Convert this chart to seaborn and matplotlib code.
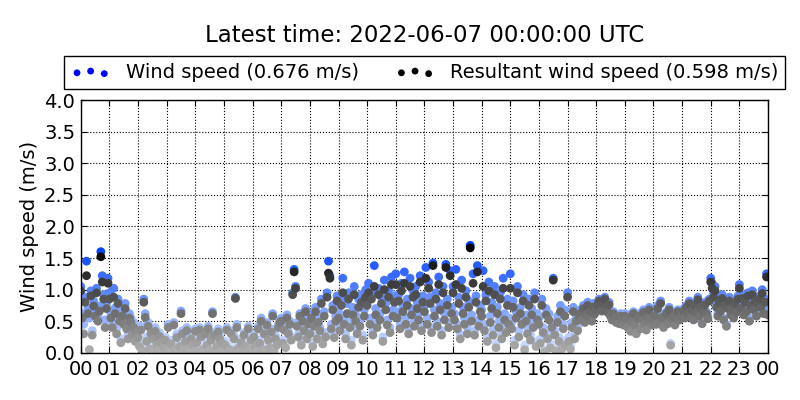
"""
Daily wind speed scatter, classic-looking style.
"""

import matplotlib
matplotlib.use("Agg")
import matplotlib.pyplot as plt
from matplotlib.colors import LinearSegmentedColormap
import numpy as np
import pandas as pd
import seaborn as sns

# Chart text
TITLE = "Latest time: 2022-06-07 00:00:00 UTC"
WIND_LABEL = "Wind speed (0.676 m/s)"
RESULTANT_LABEL = "Resultant wind speed (0.598 m/s)"
Y_LABEL = "Wind speed (m/s)"
HOUR_LABELS = [f"{h:02d}" for h in range(24)] + ["00"]

# Wind speed (m/s), 3-minute samples, one row per hour + last value at 24:00
wind_speed = [
    1.05, 0.62, 0.45, 0.88, 1.45, 0.71, 0.55, 0.98, 0.35, 0.82, 0.66, 1.02, 0.58, 0.74, 1.60, 1.22, 0.92, 0.52, 0.78, 1.18,
    0.95, 0.62, 0.48, 1.02, 0.71, 0.38, 0.85, 0.58, 0.22, 0.66, 0.52, 0.78, 0.44, 0.30, 0.62, 0.55, 0.36, 0.48, 0.25, 0.40,
    0.30, 0.15, 0.42, 0.08, 0.85, 0.62, 0.25, 0.48, 0.12, 0.35, 0.05, 0.28, 0.40, 0.18, 0.10, 0.32, 0.22, 0.06, 0.15, 0.25,
    0.12, 0.45, 0.05, 0.20, 0.02, 0.48, 0.10, 0.30, 0.04, 0.15, 0.66, 0.35, 0.08, 0.25, 0.40, 0.12, 0.03, 0.28, 0.18, 0.06,
    0.38, 0.22, 0.05, 0.40, 0.30, 0.10, 0.02, 0.35, 0.18, 0.42, 0.08, 0.25, 0.65, 0.32, 0.04, 0.15, 0.38, 0.28, 0.06, 0.20,
    0.05, 0.18, 0.40, 0.02, 0.10, 0.35, 0.06, 0.28, 0.88, 0.45, 0.12, 0.03, 0.22, 0.08, 0.32, 0.15, 0.04, 0.42, 0.10, 0.25,
    0.08, 0.30, 0.15, 0.04, 0.42, 0.20, 0.55, 0.10, 0.35, 0.02, 0.48, 0.25, 0.12, 0.38, 0.62, 0.06, 0.28, 0.18, 0.45, 0.52,
    0.55, 0.20, 0.42, 0.12, 0.60, 0.35, 0.50, 0.25, 0.95, 1.32, 1.05, 0.48, 0.30, 0.62, 0.18, 0.55, 0.40, 0.70, 0.28, 0.52,
    0.35, 0.62, 0.15, 0.48, 0.72, 0.28, 0.55, 0.40, 0.85, 0.20, 0.65, 0.32, 0.95, 1.45, 1.22, 0.45, 0.75, 0.30, 0.58, 0.90,
    0.65, 0.42, 0.88, 1.18, 0.55, 0.30, 0.78, 0.95, 0.48, 0.20, 0.72, 1.05, 0.60, 0.38, 0.85, 0.52, 0.92, 0.28, 0.68, 1.00,
    0.85, 1.10, 0.55, 0.95, 0.35, 1.38, 0.70, 0.48, 1.02, 0.62, 0.88, 0.25, 1.15, 0.78, 0.52, 0.98, 0.40, 1.20, 0.68, 0.90,
    1.25, 0.65, 0.92, 0.45, 1.10, 0.75, 1.28, 0.55, 0.85, 0.38, 1.18, 0.70, 0.98, 0.50, 1.05, 0.80, 0.62, 1.22, 0.42, 0.90,
    0.75, 1.35, 0.55, 1.12, 0.88, 0.40, 1.42, 0.68, 0.95, 0.50, 1.20, 0.78, 0.35, 1.05, 0.62, 1.40, 0.85, 0.48, 1.30, 0.72,
    1.05, 0.62, 1.32, 0.45, 0.88, 0.30, 1.15, 0.72, 0.55, 0.98, 0.40, 0.82, 1.70, 0.60, 1.25, 0.35, 0.90, 1.38, 0.52, 0.75,
    0.68, 1.30, 0.45, 0.92, 0.25, 1.12, 0.58, 0.80, 0.38, 1.05, 0.15, 0.72, 0.50, 0.95, 0.30, 1.18, 0.62, 0.42, 0.85, 0.55,
    1.25, 0.48, 0.82, 0.20, 0.65, 1.05, 0.35, 0.72, 0.55, 0.92, 0.12, 0.60, 0.40, 0.85, 0.28, 0.70, 0.50, 0.95, 0.18, 0.62,
    0.55, 0.22, 0.85, 0.40, 0.05, 0.70, 0.30, 0.62, 0.15, 0.48, 1.18, 0.35, 0.08, 0.58, 0.25, 0.75, 0.12, 0.45, 0.68, 0.20,
    0.95, 0.25, 0.12, 0.48, 0.72, 0.30, 0.55, 0.40, 0.62, 0.68, 0.58, 0.75, 0.52, 0.65, 0.80, 0.60, 0.70, 0.55, 0.78, 0.66,
    0.72, 0.80, 0.85, 0.78, 0.70, 0.82, 0.88, 0.75, 0.68, 0.80, 0.62, 0.55, 0.65, 0.60, 0.52, 0.58, 0.50, 0.62, 0.55, 0.48,
    0.62, 0.55, 0.45, 0.60, 0.38, 0.52, 0.65, 0.48, 0.35, 0.58, 0.62, 0.42, 0.55, 0.68, 0.50, 0.40, 0.60, 0.72, 0.55, 0.48,
    0.55, 0.62, 0.48, 0.75, 0.52, 0.82, 0.60, 0.45, 0.58, 0.65, 0.50, 0.72, 0.15, 0.55, 0.62, 0.48, 0.58, 0.68, 0.55, 0.60,
    0.62, 0.70, 0.58, 0.75, 0.65, 0.82, 0.60, 0.72, 0.55, 0.78, 0.68, 0.88, 0.62, 0.75, 0.50, 0.70, 0.80, 0.65, 0.58, 0.85,
    1.18, 1.10, 0.95, 1.05, 0.78, 0.62, 0.85, 0.70, 0.92, 0.55, 0.80, 0.45, 0.75, 0.88, 0.65, 0.72, 0.58, 0.82, 0.68, 0.90,
    1.08, 0.75, 0.92, 0.65, 0.85, 0.70, 0.95, 0.55, 0.80, 0.98, 0.72, 0.88, 0.62, 0.82, 0.90, 0.78, 1.00, 0.68, 0.85, 1.25,
    0.676,
]

# Resultant (vector mean) wind speed (m/s), same samples
resultant_speed = [
    0.98, 0.55, 0.30, 0.80, 1.22, 0.62, 0.05, 0.90, 0.28, 0.74, 0.58, 0.95, 0.50, 0.66, 1.52, 1.12, 0.85, 0.40, 0.70, 1.10,
    0.85, 0.55, 0.40, 0.88, 0.62, 0.30, 0.78, 0.50, 0.16, 0.58, 0.45, 0.70, 0.38, 0.22, 0.55, 0.48, 0.28, 0.40, 0.18, 0.32,
    0.24, 0.10, 0.36, 0.03, 0.80, 0.56, 0.18, 0.42, 0.06, 0.30, 0.02, 0.22, 0.34, 0.12, 0.04, 0.26, 0.16, 0.02, 0.10, 0.20,
    0.06, 0.40, 0.02, 0.14, 0.01, 0.44, 0.05, 0.24, 0.02, 0.10, 0.62, 0.30, 0.04, 0.18, 0.35, 0.06, 0.01, 0.22, 0.12, 0.03,
    0.34, 0.16, 0.02, 0.36, 0.25, 0.05, 0.01, 0.30, 0.12, 0.38, 0.04, 0.20, 0.62, 0.28, 0.02, 0.10, 0.33, 0.22, 0.03, 0.15,
    0.02, 0.12, 0.36, 0.01, 0.05, 0.30, 0.03, 0.22, 0.86, 0.40, 0.07, 0.01, 0.16, 0.04, 0.28, 0.10, 0.02, 0.38, 0.06, 0.20,
    0.04, 0.25, 0.10, 0.02, 0.38, 0.15, 0.50, 0.05, 0.30, 0.01, 0.44, 0.20, 0.08, 0.33, 0.58, 0.03, 0.22, 0.12, 0.40, 0.48,
    0.50, 0.15, 0.36, 0.08, 0.55, 0.30, 0.45, 0.20, 0.92, 1.28, 1.02, 0.42, 0.25, 0.58, 0.12, 0.50, 0.35, 0.65, 0.22, 0.46,
    0.30, 0.55, 0.10, 0.42, 0.65, 0.22, 0.48, 0.35, 0.78, 0.14, 0.58, 0.25, 0.88, 1.26, 1.18, 0.38, 0.68, 0.24, 0.50, 0.82,
    0.55, 0.35, 0.75, 0.95, 0.45, 0.22, 0.62, 0.85, 0.40, 0.12, 0.60, 0.92, 0.50, 0.30, 0.72, 0.42, 0.80, 0.20, 0.58, 0.88,
    0.75, 0.95, 0.45, 0.85, 0.28, 1.05, 0.60, 0.40, 0.92, 0.52, 0.78, 0.18, 1.00, 0.68, 0.44, 0.88, 0.32, 1.08, 0.58, 0.80,
    1.08, 0.55, 0.82, 0.38, 0.98, 0.65, 1.10, 0.45, 0.75, 0.30, 1.05, 0.60, 0.88, 0.42, 0.92, 0.70, 0.52, 1.12, 0.35, 0.80,
    0.65, 1.18, 0.45, 1.02, 0.78, 0.32, 1.38, 0.58, 0.85, 0.42, 1.08, 0.68, 0.28, 0.95, 0.52, 1.35, 0.75, 0.40, 1.22, 0.62,
    0.95, 0.52, 1.08, 0.38, 0.78, 0.22, 1.02, 0.62, 0.45, 0.88, 0.30, 0.72, 1.66, 0.50, 1.10, 0.28, 0.80, 1.28, 0.42, 0.65,
    0.58, 1.05, 0.35, 0.82, 0.18, 0.98, 0.48, 0.70, 0.28, 0.92, 0.08, 0.62, 0.40, 0.85, 0.22, 1.02, 0.52, 0.32, 0.75, 0.45,
    1.02, 0.38, 0.72, 0.12, 0.55, 0.95, 0.25, 0.62, 0.45, 0.82, 0.05, 0.50, 0.30, 0.75, 0.20, 0.60, 0.40, 0.85, 0.10, 0.52,
    0.45, 0.15, 0.75, 0.32, 0.02, 0.60, 0.22, 0.52, 0.08, 0.40, 1.15, 0.28, 0.03, 0.48, 0.18, 0.65, 0.06, 0.38, 0.58, 0.12,
    0.88, 0.18, 0.06, 0.40, 0.65, 0.22, 0.50, 0.35, 0.58, 0.62, 0.52, 0.70, 0.48, 0.60, 0.75, 0.55, 0.65, 0.50, 0.72, 0.62,
    0.68, 0.76, 0.82, 0.75, 0.66, 0.78, 0.85, 0.72, 0.64, 0.76, 0.58, 0.52, 0.62, 0.56, 0.48, 0.55, 0.46, 0.58, 0.52, 0.44,
    0.58, 0.52, 0.40, 0.56, 0.34, 0.48, 0.62, 0.44, 0.30, 0.55, 0.58, 0.38, 0.52, 0.64, 0.46, 0.36, 0.56, 0.68, 0.52, 0.44,
    0.52, 0.58, 0.45, 0.70, 0.48, 0.78, 0.56, 0.40, 0.55, 0.62, 0.46, 0.68, 0.12, 0.52, 0.58, 0.44, 0.55, 0.65, 0.52, 0.58,
    0.58, 0.66, 0.55, 0.72, 0.62, 0.78, 0.56, 0.68, 0.52, 0.75, 0.64, 0.84, 0.58, 0.72, 0.46, 0.66, 0.76, 0.62, 0.54, 0.82,
    1.12, 1.02, 0.88, 0.98, 0.72, 0.58, 0.80, 0.66, 0.86, 0.52, 0.75, 0.42, 0.70, 0.82, 0.60, 0.68, 0.55, 0.78, 0.64, 0.85,
    1.02, 0.70, 0.86, 0.60, 0.80, 0.65, 0.90, 0.50, 0.75, 0.92, 0.68, 0.82, 0.58, 0.78, 0.85, 0.72, 0.94, 0.62, 0.80, 1.20,
    0.598,
]

# Time of day in hours (3-minute steps)
hours = np.arange(len(wind_speed)) / 20.0

df = pd.DataFrame({
    "hour": hours,
    "wind": wind_speed,
    "resultant": resultant_speed,
})

# Colour gets darker with higher speed
blue_cmap = LinearSegmentedColormap.from_list("blues", ["#d8e6ff", "#0040ff"])
grey_cmap = LinearSegmentedColormap.from_list("greys", ["#b0b0b0", "#000000"])

sns.set_style("ticks")
plt.rcParams.update({
    "font.family": ["DejaVu Sans"],
    "text.color": "black",
    "axes.labelcolor": "black",
    "xtick.color": "black",
    "ytick.color": "black",
    "legend.scatterpoints": 3,
    "xtick.direction": "in",
    "ytick.direction": "in",
    "xtick.top": True,
    "ytick.right": True,
})

fig, ax = plt.subplots(figsize=(8, 4), dpi=100)
fig.subplots_adjust(left=0.101, right=0.96, bottom=0.118, top=0.75)

# Wind speed first, resultant on top
sns.scatterplot(
    data=df, x="hour", y="wind", hue="wind",
    palette=blue_cmap, hue_norm=(0, 1.65),
    s=40, linewidth=0, legend=False, ax=ax
)
sns.scatterplot(
    data=df, x="hour", y="resultant", hue="resultant",
    palette=grey_cmap, hue_norm=(0, 1.65),
    s=40, linewidth=0, legend=False, ax=ax
)

# Axes
ax.set_xlim(0, 24)
ax.set_ylim(0, 4)
ax.set_xticks(range(25))
ax.set_xticklabels(HOUR_LABELS, fontsize=14)
ax.set_yticks(np.arange(0, 4.01, 0.5))
ax.set_yticklabels([f"{v:.1f}" for v in np.arange(0, 4.01, 0.5)], fontsize=14)
ax.tick_params(length=4, width=0.8)
ax.tick_params(axis="x", pad=5)
ax.tick_params(axis="y", pad=4)
ax.set_xlabel("")
ax.set_ylabel(Y_LABEL, fontsize=14)
ax.grid(True, color="black", linestyle=":", linewidth=0.8)
for spine in ax.spines.values():
    spine.set_color("black")
    spine.set_linewidth(1.0)

# Legend with proxy scatter handles
h1 = ax.scatter([], [], s=24, color="blue", linewidth=0)
h2 = ax.scatter([], [], s=24, color="black", linewidth=0)
leg = fig.legend(
    [h1, h2], [WIND_LABEL, RESULTANT_LABEL],
    loc="center", bbox_to_anchor=(0.531, 0.819), ncol=2,
    scatteryoffsets=[0.375, 0.5, 0.3125],
    fontsize=14, frameon=True, fancybox=False, framealpha=1,
    edgecolor="black", handlelength=2.0, handletextpad=0.8,
    columnspacing=1.9, borderpad=0.35
)
leg.get_frame().set_linewidth(1.0)

fig.text(0.531, 0.912, TITLE, ha="center", va="center", fontsize=16.5)

fig.savefig("out.png", dpi=100)
plt.close(fig)
